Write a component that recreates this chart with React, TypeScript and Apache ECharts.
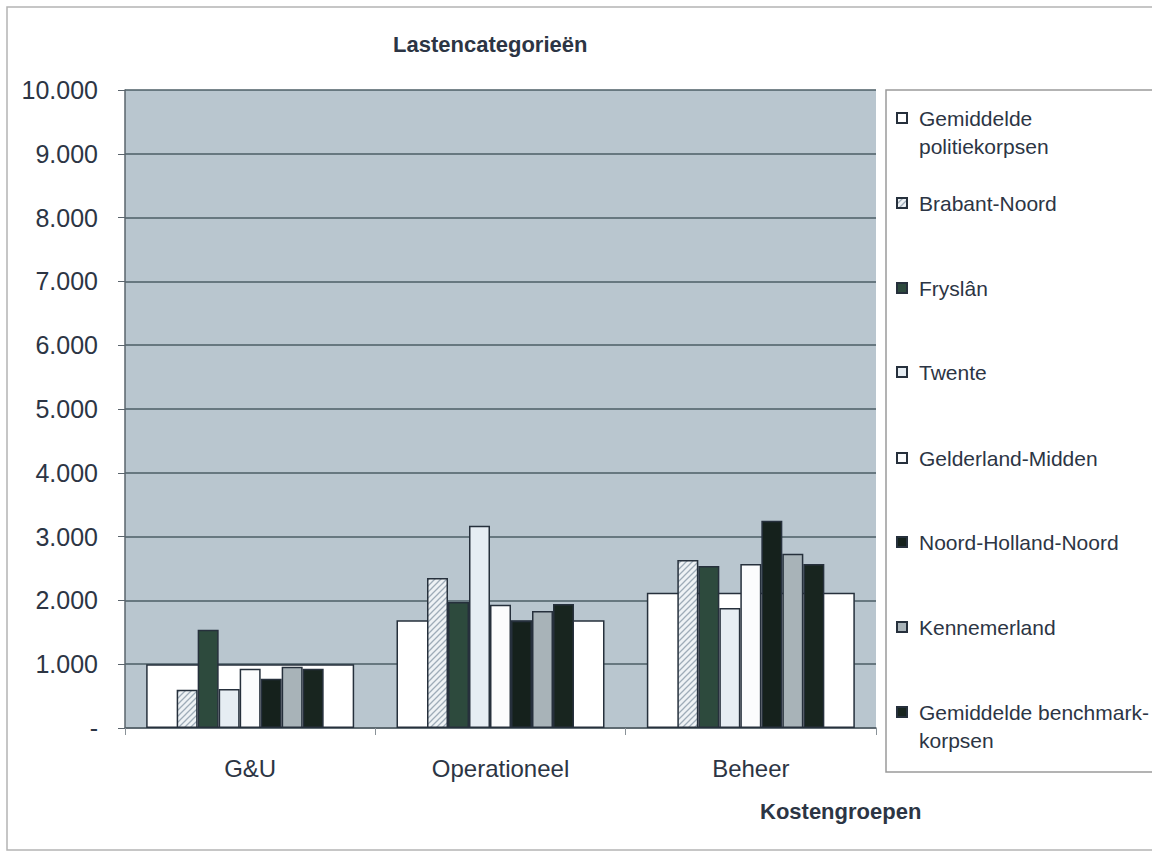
import React, { useEffect, useRef } from "react";
import * as echarts from "echarts";

const categories = ["G&U", "Operationeel", "Beheer"];
const yTicks = [0, 1000, 2000, 3000, 4000, 5000, 6000, 7000, 8000, 9000, 10000];

const gemiddeldePolitie = [1000, 1690, 2120];
const brabantNoord = [600, 2350, 2635];
const fryslan = [1540, 1975, 2540];
const twente = [610, 3170, 1880];
const gelderlandMidden = [930, 1930, 2570];
const noordHollandNoord = [770, 1680, 3250];
const kennemerland = [960, 1835, 2730];
const gemiddeldeBenchmark = [930, 1945, 2570];

const seriesNames = [
  "Gemiddelde politiekorpsen",
  "Brabant-Noord",
  "Fryslân",
  "Twente",
  "Gelderland-Midden",
  "Noord-Holland-Noord",
  "Kennemerland",
  "Gemiddelde benchmark-korpsen",
];
const legendLabels = [
  "\nGemiddelde\npolitiekorpsen",
  "Brabant-Noord",
  "Fryslân",
  "Twente",
  "Gelderland-Midden",
  "Noord-Holland-Noord",
  "Kennemerland",
  "\nGemiddelde benchmark-\nkorpsen",
];

function fmt(v: number): string {
  if (v === 0) return "-";
  const s = String(Math.round(v));
  return s.replace(/\B(?=(\d{3})+(?!\d))/g, ".");
}

function makeHatch() {
  const c = document.createElement("canvas");
  c.width = 6;
  c.height = 6;
  const ctx = c.getContext("2d")!;
  ctx.fillStyle = "#eef2f5";
  ctx.fillRect(0, 0, 6, 6);
  ctx.strokeStyle = "#9eacb8";
  ctx.lineWidth = 1.3;
  ctx.beginPath();
  ctx.moveTo(0, 6);
  ctx.lineTo(6, 0);
  ctx.moveTo(-1, 1);
  ctx.lineTo(1, -1);
  ctx.moveTo(5, 7);
  ctx.lineTo(7, 5);
  ctx.stroke();
  return c;
}

export default function App() {
  const ref = useRef<HTMLDivElement>(null);
  useEffect(() => {
    if (!ref.current) return;
    const chart = echarts.init(ref.current, null, { renderer: "svg" });
    const hatch = makeHatch();
    const textColor = "#2c3544";
    const font = "'Liberation Sans', Arial, sans-serif";
    const border = "#26303c";

    const narrowData = [
      brabantNoord,
      fryslan,
      twente,
      gelderlandMidden,
      noordHollandNoord,
      kennemerland,
      gemiddeldeBenchmark,
    ];
    const narrowColors: any[] = [
      { image: hatch, repeat: "repeat" },
      "#2d4a3d",
      "#e6edf3",
      "#fbfcfd",
      "#15211c",
      "#a8b3b8",
      "#18251f",
    ];

    const series: any[] = [
      {
        name: seriesNames[0],
        type: "bar",
        xAxisIndex: 1,
        data: gemiddeldePolitie,
        barWidth: 208,
        z: 1,
        itemStyle: { color: "#ffffff", borderColor: border, borderWidth: 1.5 },
      },
    ];
    narrowData.forEach((d, i) => {
      series.push({
        name: seriesNames[i + 1],
        type: "bar",
        xAxisIndex: 0,
        data: d,
        barWidth: 21,
        barGap: "0%",
        z: 3,
        itemStyle: { color: narrowColors[i], borderColor: border, borderWidth: 1.5 },
      });
    });

    const legendCenters = [118, 203, 288, 372, 458, 542, 627, 712];
    const lh = 28;
    const legends = seriesNames.map((n, i) => {
      const lines = legendLabels[i].split("\n").length;
      return {
        data: [n],
        orient: "vertical",
        left: 896,
        top: legendCenters[i] - (lines * lh) / 2,
        padding: 0,
        itemGap: 0,
        itemWidth: 10,
        itemHeight: 10,
        icon: "rect",
        selectedMode: false,
        z: 10,
        formatter: () => legendLabels[i],
        textStyle: {
          color: textColor,
          fontSize: 21,
          fontFamily: font,
          lineHeight: lh,
          padding: [0, 0, 0, 7],
        },
      };
    });

    chart.setOption({
      animation: false,
      backgroundColor: "#ffffff",
      graphic: [
        {
          type: "rect",
          z: -10,
          shape: { x: 7, y: 7, width: 1160, height: 843 },
          style: { fill: "none", stroke: "#b4b4b4", lineWidth: 1.5 },
        },
        {
          type: "rect",
          z: -5,
          shape: { x: 886, y: 90, width: 280, height: 682 },
          style: { fill: "#ffffff", stroke: "#9a9a9a", lineWidth: 1.5 },
        },
        {
          type: "text",
          left: 393,
          top: 33,
          style: {
            text: "Lastencategorieën",
            fontSize: 22,
            fontWeight: "bold",
            fontFamily: font,
            fill: textColor,
          },
        },
        {
          type: "text",
          left: 760,
          top: 800,
          style: {
            text: "Kostengroepen",
            fontSize: 22,
            fontWeight: "bold",
            fontFamily: font,
            fill: textColor,
          },
        },
      ],
      legend: legends,
      grid: {
        left: 125,
        top: 90,
        right: 276,
        bottom: 124,
        show: true,
        backgroundColor: "#b9c6cf",
        borderWidth: 0,
        containLabel: false,
      },
      xAxis: [
        {
          type: "category",
          data: categories,
          position: "bottom",
          axisLine: { show: true, lineStyle: { color: "#5a646c", width: 1.5 } },
          axisTick: { show: true, length: 7, lineStyle: { color: "#8a9298" } },
          axisLabel: {
            color: textColor,
            fontSize: 24,
            fontFamily: font,
            margin: 28,
          },
          splitLine: { show: false },
        },
        {
          type: "category",
          data: categories,
          position: "bottom",
          show: false,
        },
      ],
      yAxis: {
        type: "value",
        min: yTicks[0],
        max: yTicks[yTicks.length - 1],
        interval: 1000,
        axisLine: { show: true, lineStyle: { color: "#5a646c", width: 1.5 } },
        axisTick: { show: true, length: 7, lineStyle: { color: "#5a646c" } },
        axisLabel: {
          color: textColor,
          fontSize: 25,
          fontFamily: font,
          margin: 27,
          formatter: (v: number) => fmt(v),
        },
        splitLine: { show: true, lineStyle: { color: "#4c5e66", width: 1.5 } },
      },
      series,
    });
    return () => chart.dispose();
  }, []);
  return (
    <div
      ref={ref}
      style={{ position: "fixed", left: 0, top: 0, width: 1152, height: 852 }}
    />
  );
}
